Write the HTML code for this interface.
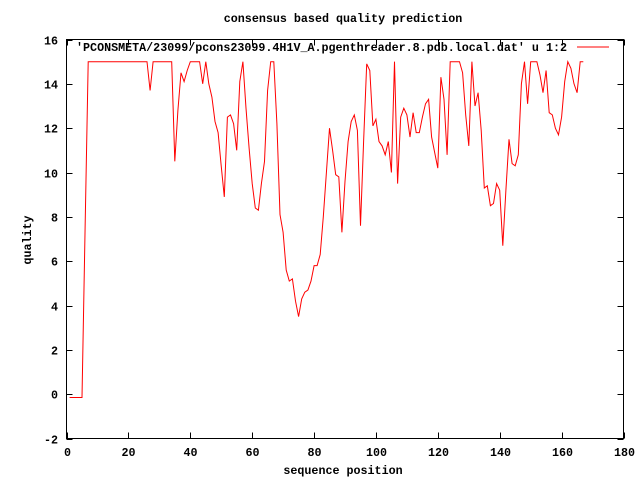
<!DOCTYPE html>
<html><head><meta charset="utf-8"><style>
html,body{margin:0;padding:0;background:#fff;}
svg{display:block;}
text{font-family:"Liberation Mono",monospace;font-weight:bold;font-size:11.7px;fill:#000;}
</style></head><body>
<svg id="chart" width="640" height="480" xmlns="http://www.w3.org/2000/svg">
<rect x="0" y="0" width="640" height="480" fill="#fff"/>
<text x="343" y="22" text-anchor="middle">consensus based quality prediction</text>
<g id="axes"></g>
<text x="343" y="474" text-anchor="middle">sequence position</text>
<text x="0" y="0" text-anchor="middle" transform="translate(31,240) rotate(-90)">quality</text>
<g>
<text x="567" y="51" text-anchor="end">'PCONSMETA/23099/pcons23099.4H1V_A.pgenthreader.8.pdb.local.dat' u 1:2</text>
<line x1="577" y1="47" x2="609" y2="47" stroke="#f00" stroke-width="1"/>
</g>
<path id="series" fill="none" stroke="#f00" stroke-width="1"/>
</svg>
<script>
const xTicks = [0,20,40,60,80,100,120,140,160,180];
const yTicks = [-2,0,2,4,6,8,10,12,14,16];
const positions = [1,2,3,4,5,6,7,8,9,10,11,12,13,14,15,16,17,18,19,20,21,22,23,24,25,26,27,28,29,30,31,32,33,34,35,36,37,38,39,40,41,42,43,44,45,46,47,48,49,50,51,52,53,54,55,56,57,58,59,60,61,62,63,64,65,66,67,68,69,70,71,72,73,74,75,76,77,78,79,80,81,82,83,84,85,86,87,88,89,90,91,92,93,94,95,96,97,98,99,100,101,102,103,104,105,106,107,108,109,110,111,112,113,114,115,116,117,118,119,120,121,122,123,124,125,126,127,128,129,130,131,132,133,134,135,136,137,138,139,140,141,142,143,144,145,146,147,148,149,150,151,152,153,154,155,156,157,158,159,160,161,162,163,164,165,166,167];
const quality = [-0.15,-0.15,-0.15,-0.15,-0.15,7.5,15,15,15,15,15,15,15,15,15,15,15,15,15,15,15,15,15,15,15,15,13.7,15,15,15,15,15,15,15,10.5,12.8,14.5,14.1,14.6,15,15,15,15,14,15,14.0,13.4,12.3,11.8,10.3,8.9,12.5,12.6,12.2,11.0,14.1,15,12.9,11.1,9.5,8.4,8.3,9.5,10.5,13.7,15,15,12.2,8.1,7.3,5.6,5.1,5.2,4.2,3.5,4.3,4.6,4.7,5.1,5.8,5.8,6.3,8.0,10.0,12.0,11.0,9.9,9.8,7.3,9.6,11.4,12.3,12.6,11.9,7.6,11.4,14.9,14.6,12.1,12.4,11.4,11.2,10.8,11.4,10.0,15,9.5,12.5,12.9,12.6,11.6,12.7,11.8,11.8,12.5,13.1,13.3,11.6,10.9,10.2,14.3,13.3,10.8,15,15,15,15,14.5,12.6,11.2,15,13.0,13.6,11.9,9.3,9.4,8.5,8.6,9.5,9.2,6.7,9.2,11.5,10.4,10.3,10.8,14,15,13.1,15,15,15,14.4,13.6,14.6,12.7,12.6,12.0,11.7,12.5,14.1,15,14.7,14.0,13.6,15,15];

const L=66.5,R=623.5,T=39.5,B=438.5;
const xMin=0,xMax=180,yMin=-2,yMax=16;
function sx(v){return L+(v-xMin)/(xMax-xMin)*(R-L);}
function sy(v){return B-(v-yMin)/(yMax-yMin)*(B-T);}
const NS="http://www.w3.org/2000/svg";
const axes=document.getElementById('axes');
function ln(x1,y1,x2,y2,name){
  const l=document.createElementNS(NS,'line');
  l.setAttribute('x1',x1);l.setAttribute('y1',y1);l.setAttribute('x2',x2);l.setAttribute('y2',y2);
  l.setAttribute('stroke','#000');l.setAttribute('stroke-width','1');
  
  
  axes.appendChild(l);
}
function tx(x,y,s,anchor,name){
  const t=document.createElementNS(NS,'text');
  t.setAttribute('x',x);t.setAttribute('y',y);t.setAttribute('text-anchor',anchor);
  t.textContent=s;
  
  
  axes.appendChild(t);
}
const frame=document.createElementNS(NS,'rect');
frame.setAttribute('x',L);frame.setAttribute('y',T);frame.setAttribute('width',R-L);frame.setAttribute('height',B-T);
frame.setAttribute('fill','none');frame.setAttribute('stroke','#000');


axes.appendChild(frame);
xTicks.forEach(v=>{
  const x=Math.round(sx(v))+0.5;
  ln(x,B,x,B-6,'x-tick');
  ln(x,T,x,T+6,'x-tick-mirror');
  tx(x,456,String(v),'middle','x-tick-label');
});
yTicks.forEach(v=>{
  const y=Math.round(sy(v))+0.5;
  ln(L,y,L+6,y,'y-tick');
  ln(R,y,R-6,y,'y-tick-mirror');
  tx(58,y+4,String(v),'end','y-tick-label');
});
let d='';
positions.forEach((p,i)=>{d+=(i?'L':'M')+sx(p).toFixed(1)+' '+sy(quality[i]).toFixed(1)+' ';});
document.getElementById('series').setAttribute('d',d);
</script>
</body></html>
